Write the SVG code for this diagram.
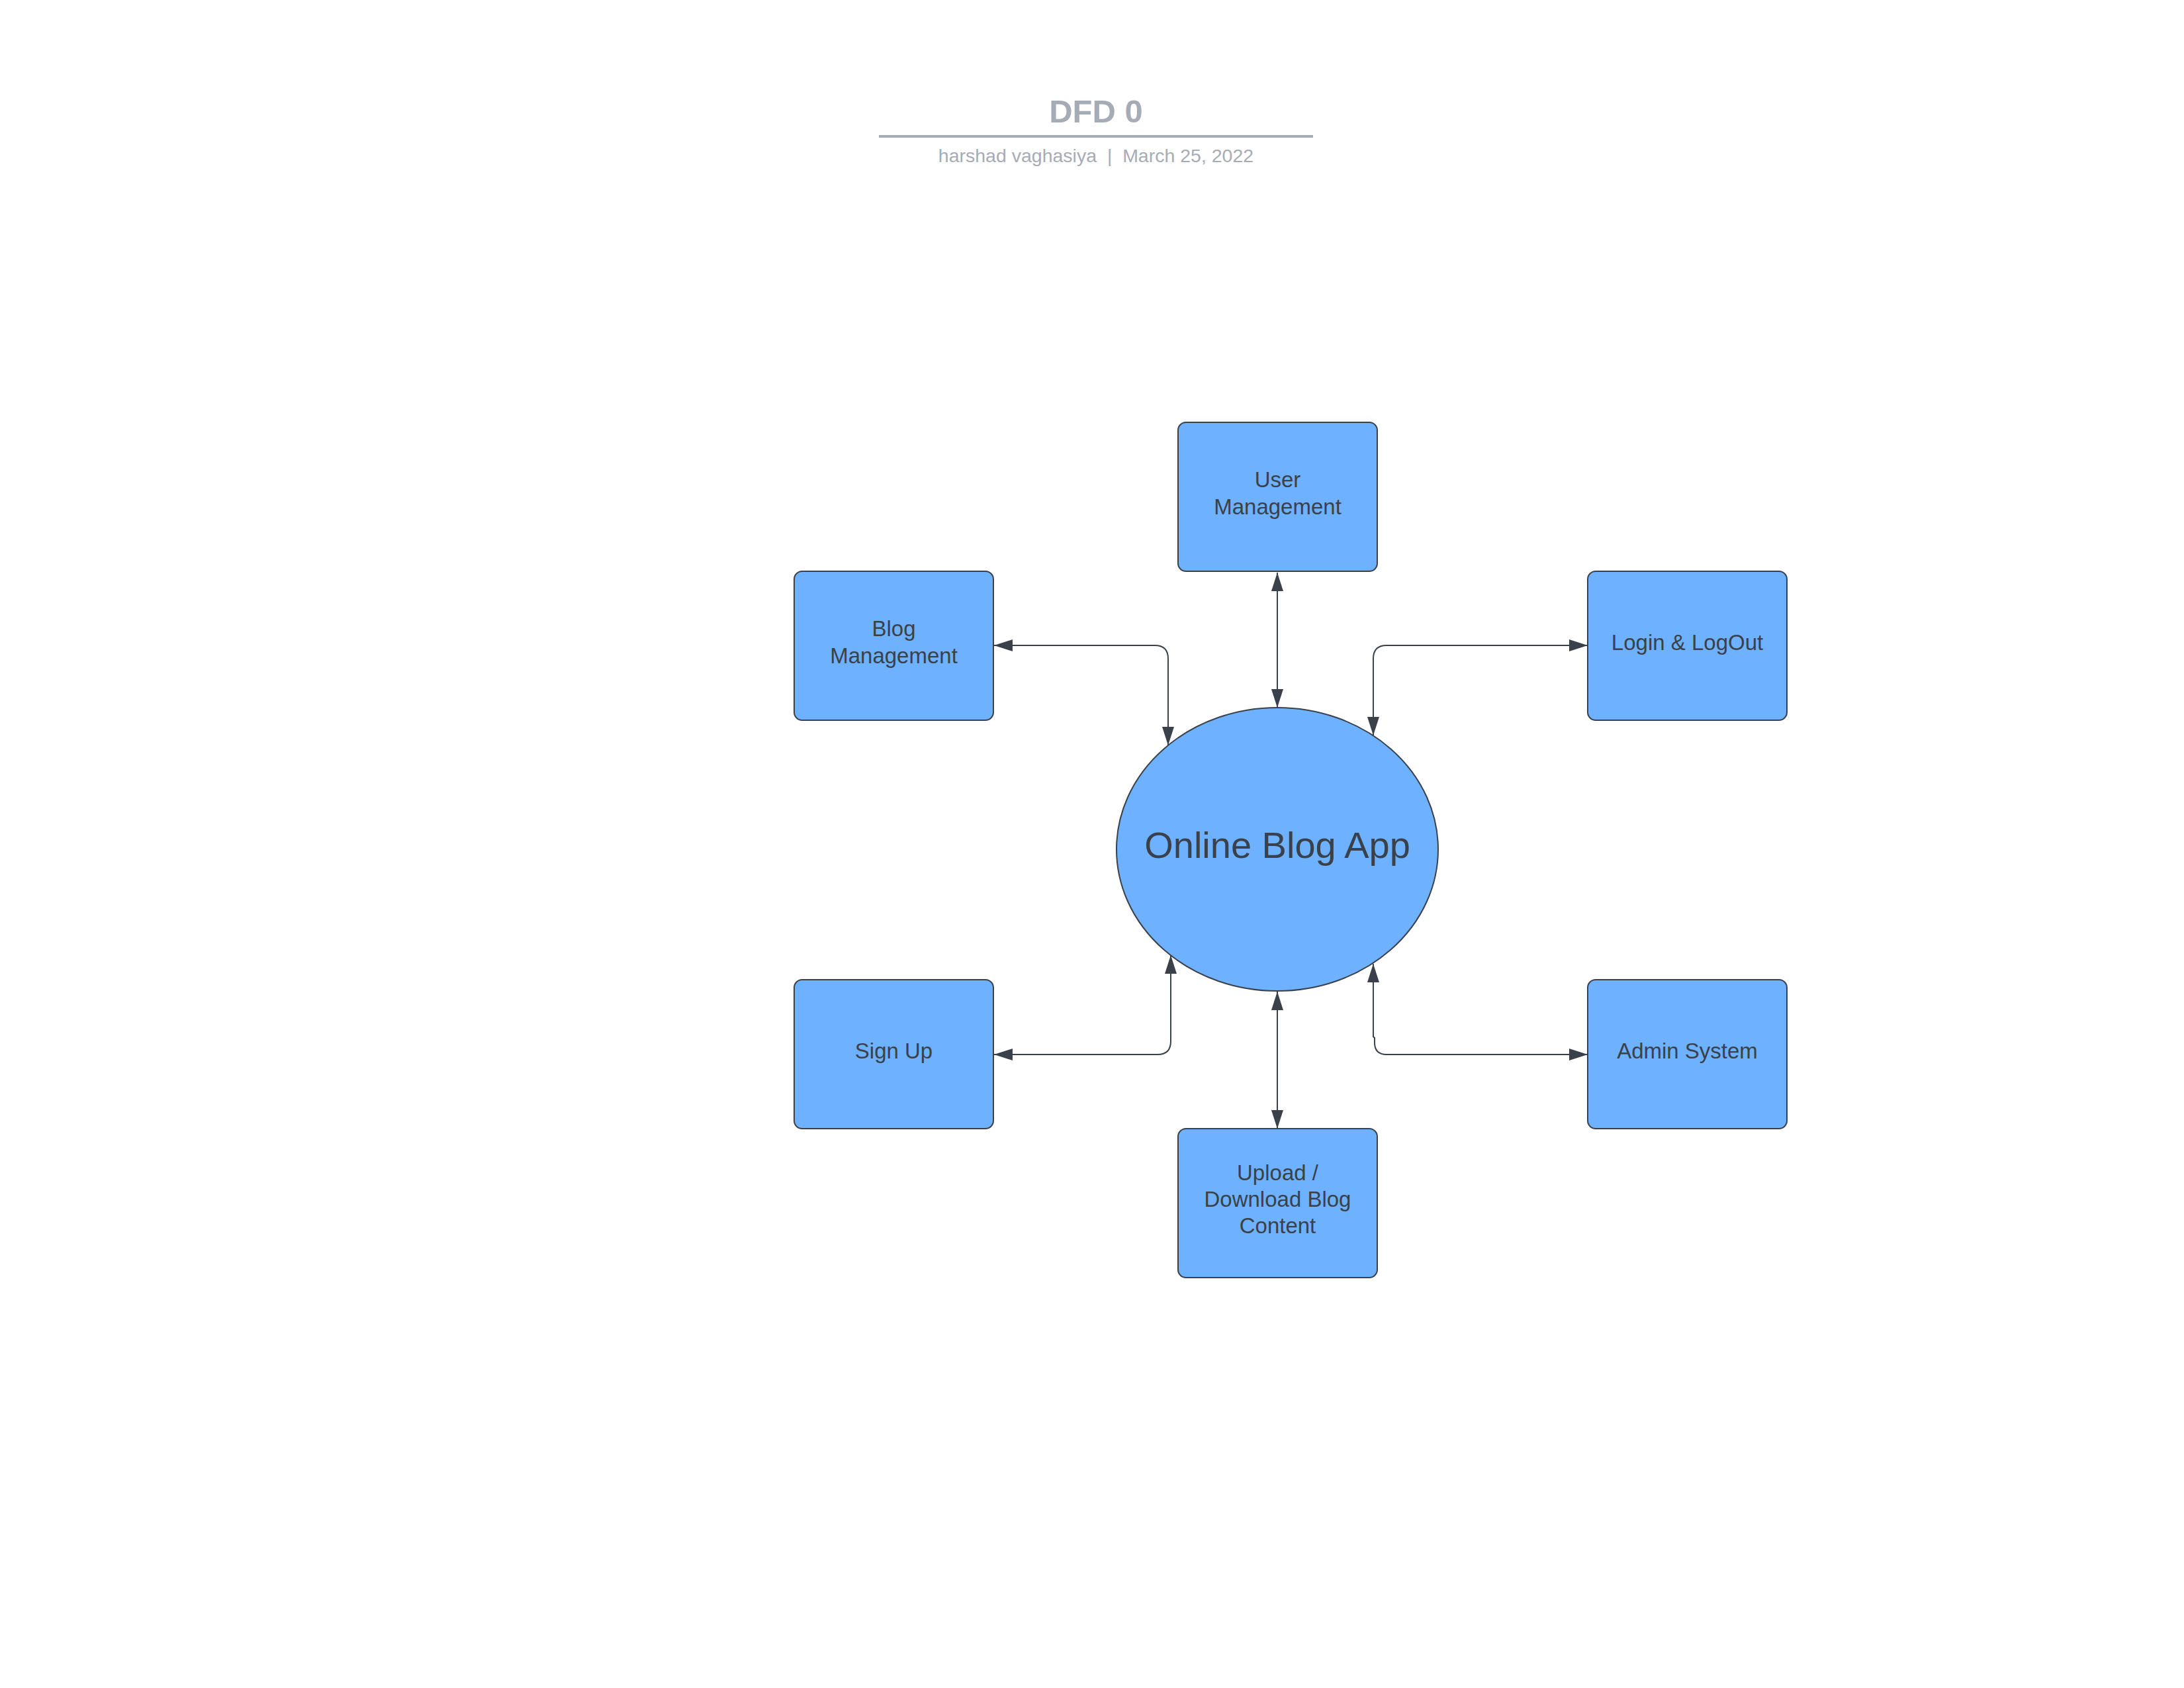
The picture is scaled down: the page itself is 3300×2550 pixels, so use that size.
<svg xmlns="http://www.w3.org/2000/svg" width="3300" height="2550" viewBox="0 0 3300 2550">
<style>
.box{fill:#6db1ff;stroke:#3a414a;stroke-width:2}
.lbl{font-family:"Liberation Sans",Arial,sans-serif;font-size:33px;fill:#3a414a;text-anchor:middle}
.big{font-family:"Liberation Sans",Arial,sans-serif;font-size:56px;fill:#3a414a;text-anchor:middle}
.con{fill:none;stroke:#3a414a;stroke-width:2;marker-start:url(#ah);marker-end:url(#ah)}
.title{font-family:"Liberation Sans",Arial,sans-serif;font-size:49px;font-weight:bold;fill:#a6acb6;text-anchor:middle}
.sub{font-family:"Liberation Sans",Arial,sans-serif;font-size:28.5px;fill:#a6acb6;text-anchor:middle}
</style>
<defs>
<marker id="ah" markerUnits="userSpaceOnUse" markerWidth="28" markerHeight="18" refX="28" refY="9" orient="auto-start-reverse" viewBox="0 0 28 18">
<path d="M0,0 L28,9 L0,18 Z" fill="#3a414a"/>
</marker>
</defs>
<rect width="3300" height="2550" fill="#ffffff"/>
<g id="header">
<text class="title" x="1656" y="185">DFD 0</text>
<line x1="1328" y1="206" x2="1984" y2="206" stroke="#a6acb6" stroke-width="4"/>
<text class="sub" x="1656" y="245" xml:space="preserve">harshad vaghasiya  |  March 25, 2022</text>
</g>
<g id="connectors">
<path class="con" d="M1930,865 L1930,1069"/>
<path class="con" d="M1502,975 L1745,975 Q1765,975 1765,995 L1765,1126"/>
<path class="con" d="M2075,1111 L2075,995 Q2075,975 2095,975 L2399,975"/>
<path class="con" d="M1502,1593 L1749,1593 Q1769,1593 1769,1573 L1769,1443"/>
<path class="con" d="M2075,1456 L2075,1566 L2077,1568 L2077,1575 Q2077,1593 2095,1593 L2399,1593"/>
<path class="con" d="M1930,1498 L1930,1705"/>
</g>
<g id="user-management">
<rect class="box" x="1780" y="638" width="301" height="225" rx="12"/>
<text class="lbl" x="1930.5" y="736">User</text>
<text class="lbl" x="1930.5" y="777">Management</text>
</g>
<g id="blog-management">
<rect class="box" x="1200" y="863" width="301" height="225" rx="12"/>
<text class="lbl" x="1350.5" y="961">Blog</text>
<text class="lbl" x="1350.5" y="1002">Management</text>
</g>
<g id="login-logout">
<rect class="box" x="2399" y="863" width="301" height="225" rx="12"/>
<text class="lbl" x="2549.5" y="982">Login &amp; LogOut</text>
</g>
<g id="online-blog-app">
<ellipse class="box" cx="1930" cy="1283" rx="243" ry="214"/>
<text class="big" x="1930" y="1296">Online Blog App</text>
</g>
<g id="sign-up">
<rect class="box" x="1200" y="1480" width="301" height="225" rx="12"/>
<text class="lbl" x="1350.5" y="1599">Sign Up</text>
</g>
<g id="admin-system">
<rect class="box" x="2399" y="1480" width="301" height="225" rx="12"/>
<text class="lbl" x="2549.5" y="1599">Admin System</text>
</g>
<g id="upload-download">
<rect class="box" x="1780" y="1705" width="301" height="225" rx="12"/>
<text class="lbl" x="1930.5" y="1783">Upload /</text>
<text class="lbl" x="1930.5" y="1823">Download Blog</text>
<text class="lbl" x="1930.5" y="1863">Content</text>
</g>
</svg>
